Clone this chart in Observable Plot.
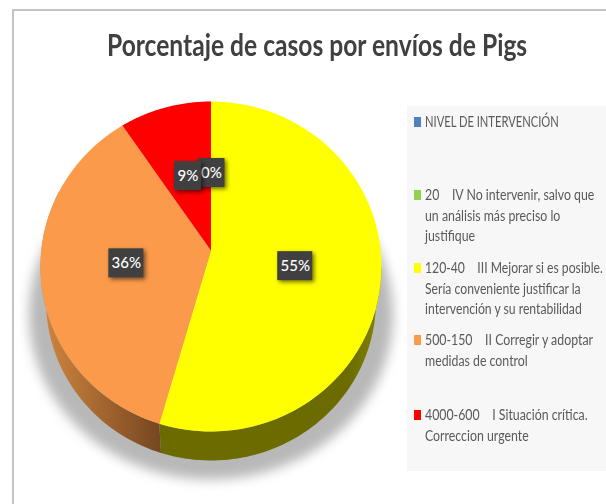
<!DOCTYPE html>
<html><head><meta charset="utf-8">
<script src="https://cdn.jsdelivr.net/npm/d3@7"></script>
<script src="https://cdn.jsdelivr.net/npm/@observablehq/plot@0.6"></script>
<style>
html,body{margin:0;padding:0;background:#fff;overflow:hidden}
#page{position:relative;width:606px;height:504px;overflow:hidden}
#page svg{position:absolute;left:0;top:0}
#title{position:absolute;left:107px;top:26px;text-align:left;font:700 30px Lato;color:#404040;white-space:nowrap;transform-origin:0 0;transform:scaleX(.82)}
#legend{position:absolute;left:407px;top:106px;width:199px;height:365px;background:#f7f7f7;z-index:1;font:14.5px Lato;color:#595959}
.item{position:absolute;left:18px;line-height:20.7px;white-space:pre;transform-origin:0 0;transform:scaleX(.85)}
.sw{position:absolute;left:7px;width:7px;height:10px}
</style></head><body><div id="page"><div id="title"></div><div id="legend"></div></div>
<script>
const chartTitle = "Porcentaje de casos por envíos de Pigs";
const categories = ["NIVEL DE INTERVENCIÓN","20","120-40","500-150","4000-600"];
const descriptions = ["","IV No intervenir, salvo que\nun análisis más preciso lo\njustifique","III Mejorar si es posible.\nSería conveniente justificar la\nintervención y su rentabilidad","II Corregir y adoptar\nmedidas de control","I Situación crítica.\nCorreccion urgente"];
const values = [null,0,54.9,36.4,8.7];
const colors = ["#4f81bd","#92d050","#ffff00","#fb9a4a","#ff0000"];
const wallFills = [null,null,"url(#wallYellow)","url(#wallOrange)",null];

document.getElementById("title").textContent=chartTitle;
const W=606,H=504,cx=210.5,apexY=250;
const top0={cy:266,rx:170.5,ry:165},bot={cy:300,rx:165,ry:160};
const pt=(e,a)=>[cx+e.rx*Math.sin(a),e.cy-e.ry*Math.cos(a)];
const arcPts=(e,a0,a1)=>d3.range(0,65).map(i=>pt(e,a0+(a1-a0)*i/64));

let acc=0;
const slices=categories.map((c,i)=>{const v=values[i];const a0=acc/100*2*Math.PI;acc+=v||0;const a1=acc/100*2*Math.PI;return{c,v,a0,a1,i}});
const solid=slices.filter(s=>s.v>0);
const poly=(pts,key)=>pts.map(([x,y])=>({x,y,key}));
const facePts=solid.flatMap(s=>poly([[cx,apexY],...arcPts(top0,s.a0,s.a1),[cx,apexY]],s.c));
const wallPts=solid.filter(s=>wallFills[s.i]).map(s=>{
  const a0=Math.max(s.a0,Math.PI/2),a1=Math.min(s.a1,Math.PI*1.65);
  return {fill:wallFills[s.i],pts:poly([...arcPts(top0,a0,a1),...arcPts(bot,a0,a1).reverse()],s.c)};
});
const shadow=poly(d3.range(0,121).map(i=>pt({cy:314,rx:182,ry:165},i/120*2*Math.PI)),"shadow");

const labels=slices.filter(s=>s.v!==null).map(s=>{const m=(s.a0+s.a1)/2;
 return{x:s.v===0?cx+.5:cx+.5*top0.rx*Math.sin(m),y:apexY+3+.5*top0.ry*-Math.cos(m)+(s.v<10?2:0),text:d3.format(".0f")(s.v)+"%",w:s.v>=10?35:27}});

const defs=()=>{const ns="http://www.w3.org/2000/svg";const d=document.createElementNS(ns,"defs");
 d.innerHTML=`<linearGradient id="wallOrange" x1="0" x2="1" y1="0" y2="0"><stop offset="0" stop-color="#d0853f"/><stop offset=".2" stop-color="#c07a3a"/><stop offset="1" stop-color="#754620"/></linearGradient>
 <linearGradient id="wallYellow" x1="0" x2="1" y1="0" y2="0"><stop offset="0" stop-color="#6b6b00"/><stop offset=".85" stop-color="#6b6b00"/><stop offset="1" stop-color="#858500"/></linearGradient>`;return d};

const marks=[
 defs,
 Plot.line(shadow,{x:"x",y:"y",fill:"#b8b8b8",stroke:"none",imageFilter:"blur(6px)"}),
 ...wallPts.map(w=>Plot.line(w.pts,{x:"x",y:"y",fill:w.fill,stroke:"none"})),
 ...solid.map(s=>Plot.line(facePts.filter(d=>d.key===s.c),{x:"x",y:"y",fill:colors[s.i],stroke:"none"})),
 ...labels.flatMap(l=>[
  Plot.rect([l],{x1:d=>d.x-d.w/2,x2:d=>d.x+d.w/2,y1:d=>d.y-14.5,y2:d=>d.y+14.5,fill:"#404040",imageFilter:"drop-shadow(2px 2px 2px rgba(0,0,0,.55))"}),
  Plot.text([l],{x:"x",y:"y",text:"text",fill:"#fff",fontSize:15,fontWeight:500,fontFamily:"Lato"})
 ])
];
const plot=Plot.plot({width:W,height:H,margin:0,x:{domain:[0,W],range:[0,W],axis:null},y:{domain:[0,H],range:[0,H],axis:null},marks,style:{background:"transparent"}});
const page=document.getElementById("page");
page.insertBefore(plot,page.firstChild);

const frame=document.createElement("div");
frame.style.cssText="position:absolute;left:12px;top:9px;right:-4px;bottom:-10px;border:2px solid #c4c4c4;pointer-events:none";
page.appendChild(frame);

const tops=[6,79,152,224,299];
const legend=document.getElementById("legend");
categories.forEach((c,i)=>{
 const sw=document.createElement("div");sw.className="sw";sw.style.top=(tops[i]+5)+"px";sw.style.background=colors[i];legend.appendChild(sw);
 const it=document.createElement("div");it.className="item";it.style.top=tops[i]+"px";
 if(i===0)it.style.transform="scaleX(.77)";
 if(i===2)it.style.transform="scaleX(.84)";
 it.textContent=c+(descriptions[i]?"    "+descriptions[i]:"");legend.appendChild(it);
});
</script></body></html>
